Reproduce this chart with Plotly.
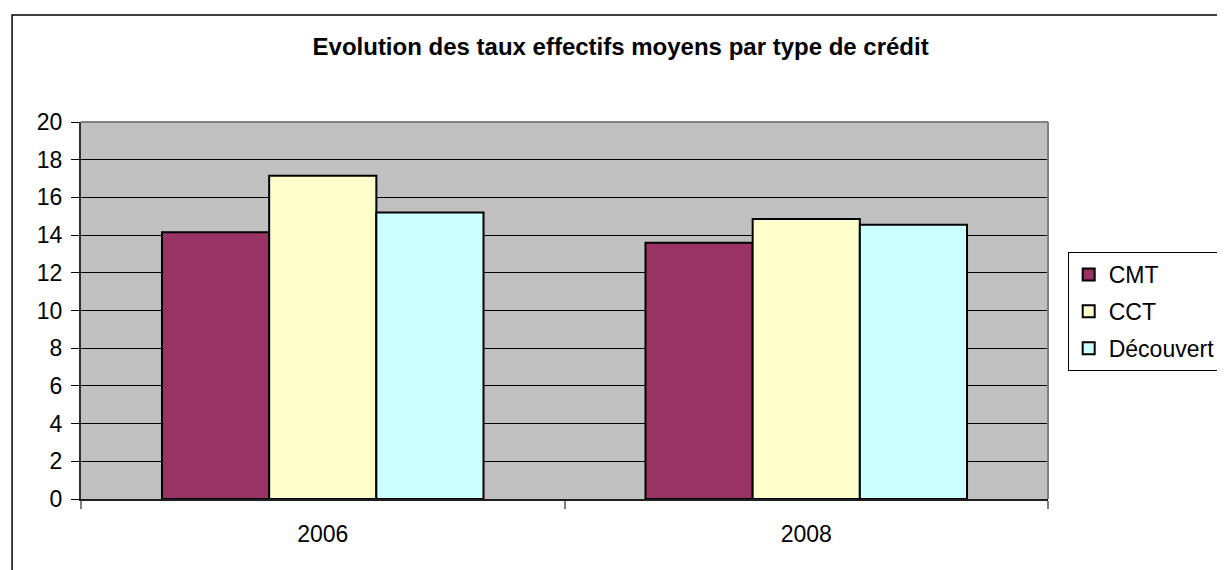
import plotly.graph_objects as go

categories = ["2006", "2008"]
series_names = ["CMT", "CCT", "Découvert"]
cmt = [14.15, 13.6]
cct = [17.15, 14.85]
decouvert = [15.2, 14.55]
colors = ["#993366", "#FFFFCC", "#CCFFFF"]
y_ticks = [0, 2, 4, 6, 8, 10, 12, 14, 16, 18, 20]

W, H = 1225, 570
L, R, T, B = 73, 170, 114, 79
pw, ph = W - L - R, H - T - B

fig = go.Figure()
for i, (name, vals, col) in enumerate(zip(series_names, [cmt, cct, decouvert], colors)):
    fig.add_trace(go.Bar(
        x=categories, y=vals, name=name, legendgroup=f"g{i}",
        marker=dict(color=col, line=dict(color="black", width=2)),
    ))

font = "Arial, Liberation Sans, sans-serif"
fig.update_layout(
    width=W, height=H,
    margin=dict(l=L, r=R, t=T, b=B),
    paper_bgcolor="white",
    plot_bgcolor="#C0C0C0",
    barmode="group",
    bargap=0.335,
    bargroupgap=0,
    font=dict(family=font, size=23, color="black"),
    title=dict(
        text="<b>Evolution des taux effectifs moyens par type de crédit</b>",
        x=(621 - L) / pw, xref="paper", xanchor="center",
        y=1 - 39 / H, yref="container", yanchor="middle",
        font=dict(family=font, size=24, color="black"),
    ),
    legend=dict(
        x=(1075 - L) / pw, xanchor="left",
        y=(H - B - 244) / ph, yanchor="top",
        bgcolor="white", bordercolor="black", borderwidth=1,
        font=dict(family=font, size=23),
        traceorder="grouped",
        tracegroupgap=4,
        itemwidth=30,
    ),
    showlegend=True,
)
fig.update_xaxes(
    type="category",
    showgrid=False,
    showline=True, linecolor="#202020", linewidth=2,
    ticks="outside", tickson="boundaries", ticklen=8, tickcolor="#808080", tickwidth=2,
    tickfont=dict(family=font, size=23),
    ticklabelstandoff=13,
)
fig.update_yaxes(
    range=[0, 20],
    tickvals=y_ticks,
    showgrid=True, gridcolor="black", gridwidth=1,
    showline=True, linecolor="#303030", linewidth=2,
    ticks="outside", ticklen=8, tickcolor="black",
    tickfont=dict(family=font, size=23),
    ticklabelstandoff=4,
    zeroline=False,
)
# gray frame top/right
fig.add_shape(type="line", xref="paper", yref="paper", x0=0, x1=1, y0=1, y1=1,
              line=dict(color="#808080", width=2))
fig.add_shape(type="line", xref="paper", yref="paper", x0=1, x1=1, y0=0, y1=1,
              line=dict(color="#808080", width=2))
# outer chart border
fig.add_shape(type="rect", xref="paper", yref="paper",
              x0=(3 - L) / pw, x1=1.4, y0=-0.4, y1=(H - B - 7) / ph,
              line=dict(color="black", width=1.5), fillcolor="rgba(0,0,0,0)", layer="below")

fig.write_html("out.html")
